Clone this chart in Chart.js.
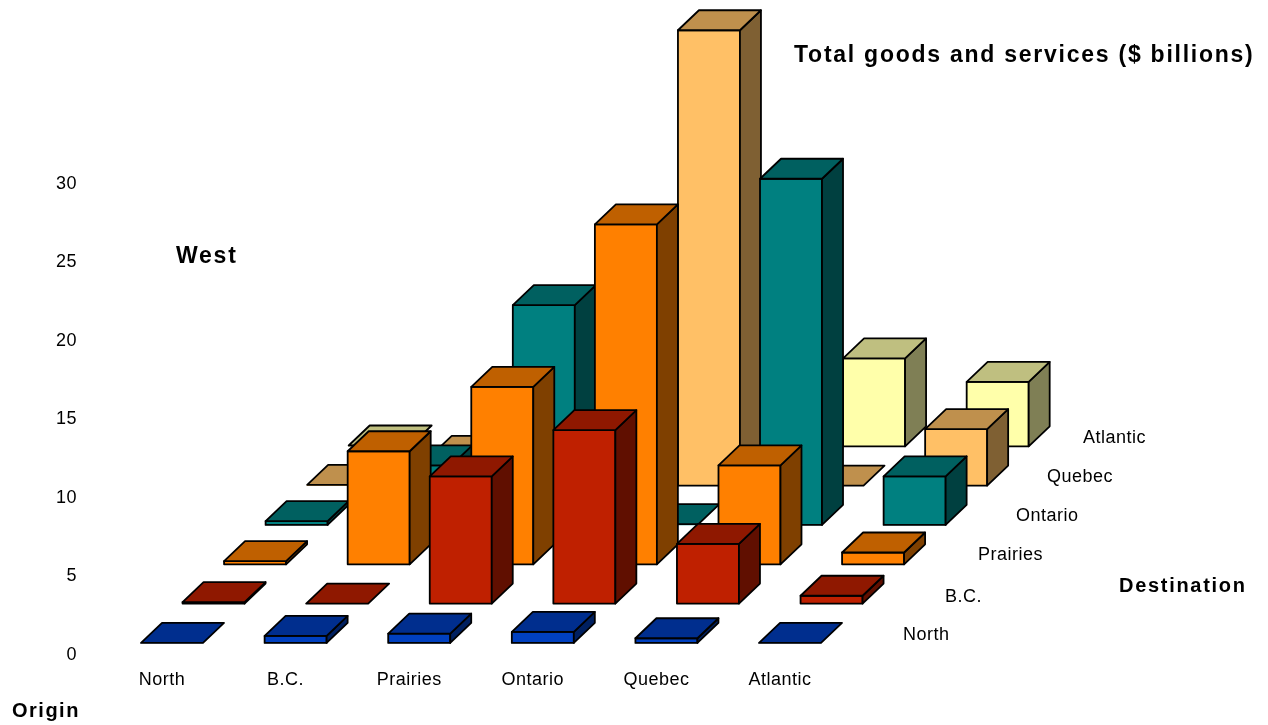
<!DOCTYPE html>
<html>
<head>
<meta charset="utf-8">
<title>Total goods and services</title>
<script src="https://cdn.jsdelivr.net/npm/chart.js@4/dist/chart.umd.min.js"></script>
<style>
  html, body { margin: 0; padding: 0; background: #fff; }
  #wrap { width: 1268px; height: 725px; }
</style>
</head>
<body>
<div id="wrap"><canvas id="grafico"></canvas></div>
<script>
const origens = ["North", "B.C.", "Prairies", "Ontario", "Quebec", "Atlantic"];
const destinos = ["North", "B.C.", "Prairies", "Ontario", "Quebec", "Atlantic"];
const marcasY = [0, 5, 10, 15, 20, 25, 30];

// $ billions, one list per destination, same order as origens
const paraNorth = [0, 0.45, 0.6, 0.7, 0.3, 0];
const paraBC = [0.1, 0, 8.1, 11.05, 3.8, 0.5];
const paraPrairies = [0.2, 7.2, 11.3, 21.65, 6.3, 0.75];
const paraOntario = [0.25, 3.8, 14, 0.05, 22.05, 3.1];
const paraQuebec = [0.05, 1.9, 4, 29, 0, 3.6];
const paraAtlantic = [0.05, 0.5, 3, 3, 5.6, 4.1];
const valores = [paraNorth, paraBC, paraPrairies, paraOntario, paraQuebec, paraAtlantic];

// front, top, side
const cores = [
  ["#0040c0", "#002e8e", "#002060"],
  ["#bf2000", "#8f1800", "#600f00"],
  ["#ff8000", "#bf6000", "#7f4000"],
  ["#008080", "#006060", "#004040"],
  ["#ffc066", "#bf904d", "#7f6033"],
  ["#ffffaa", "#bfbf80", "#7f7f55"]
];

// each row further back sits a bit to the right and higher up
const passoX = 0.336;
const passoY = 2.505;
const baseY = 0.64;
const fundoX = 21;
const fundoY = 20;

const posDestinos = [
  [903, 635], [945, 597], [978, 555], [1016, 516], [1047, 477], [1083, 438]
];
// text, x, y, font size, letter spacing
const titulos = [
  ["Total goods and services ($ billions)", 794, 56, 23, 1.75],
  ["West", 176, 257, 23, 1.75],
  ["Destination", 1119, 586, 20, 1.7],
  ["Origin", 12, 711, 20, 1.5]
];

function poligono(ctx, pontos, cor) {
  ctx.beginPath();
  pontos.forEach((p, i) => i ? ctx.lineTo(p[0], p[1]) : ctx.moveTo(p[0], p[1]));
  ctx.closePath();
  ctx.fillStyle = cor;
  ctx.fill();
  ctx.stroke();
}

// top and side of each bar, taken from the bar the library laid out
const caixa3d = {
  id: "caixa3d",
  beforeDraw(chart) {
    chart.ctx.letterSpacing = "0.5px";
  },
  afterDatasetDraw(chart, args) {
    const ctx = chart.ctx;
    const c = cores[args.index];
    ctx.save();
    ctx.strokeStyle = "#000";
    ctx.lineWidth = 1.8;
    ctx.lineJoin = "round";
    args.meta.data.forEach(bar => {
      const esq = bar.x - bar.width / 2;
      const dir = bar.x + bar.width / 2;
      const topo = bar.y;
      const base = bar.base;
      if (base - topo >= 1) {
        ctx.strokeRect(esq, topo, dir - esq, base - topo);
        poligono(ctx, [[dir, topo], [dir + fundoX, topo - fundoY], [dir + fundoX, base - fundoY], [dir, base]], c[2]);
      }
      poligono(ctx, [[esq, topo], [esq + fundoX, topo - fundoY], [dir + fundoX, topo - fundoY], [dir, topo]], c[1]);
    });
    ctx.restore();
  },
  afterDraw(chart) {
    const ctx = chart.ctx;
    ctx.save();
    ctx.fillStyle = "#000";
    ctx.textBaseline = "middle";
    ctx.textAlign = "left";
    ctx.font = "18px 'Liberation Sans'";
    destinos.forEach((d, i) => ctx.fillText(d, posDestinos[i][0], posDestinos[i][1]));
    titulos.forEach(t => {
      ctx.font = "bold " + t[3] + "px 'Liberation Sans'";
      ctx.letterSpacing = t[4] + "px";
      ctx.fillText(t[0], t[1], t[2]);
    });
    ctx.restore();
  }
};

const conjuntos = destinos.map((nome, linha) => ({
  label: nome,
  data: valores[linha].map((v, i) => ({
    x: i + linha * passoX,
    y: [baseY + linha * passoY, baseY + linha * passoY + v]
  })),
  backgroundColor: cores[linha][0],
  borderWidth: 0,
  barThickness: 62,
  grouped: false
}));

new Chart(document.getElementById("grafico"), {
  type: "bar",
  data: { datasets: conjuntos },
  plugins: [caixa3d],
  options: {
    responsive: true,
    maintainAspectRatio: false,
    animation: false,
    layout: { padding: 0 },
    plugins: {
      legend: { display: false },
      title: { display: false },
      tooltip: { enabled: false }
    },
    scales: {
      x: {
        type: "linear",
        offset: false,
        min: -0.704,
        max: 8.867,
        grid: { display: false },
        border: { display: false },
        afterBuildTicks(scale) {
          scale.ticks = origens.map((o, i) => ({ value: i }));
        },
        afterFit(scale) {
          scale.height = 72;
        },
        ticks: {
          autoSkip: false,
          maxRotation: 0,
          padding: 8,
          labelOffset: -10,
          color: "#000",
          font: { family: "'Liberation Sans'", size: 18 },
          callback: value => origens[value]
        }
      },
      y: {
        type: "linear",
        min: 0,
        max: 40.9,
        grid: { display: false },
        border: { display: false },
        afterBuildTicks(scale) {
          scale.ticks = marcasY.map(v => ({ value: v }));
        },
        afterFit(scale) {
          scale.width = 85;
        },
        ticks: {
          padding: 0,
          labelOffset: 2,
          color: "#000",
          font: { family: "'Liberation Sans'", size: 18 }
        }
      }
    }
  }
});
</script>
</body>
</html>
